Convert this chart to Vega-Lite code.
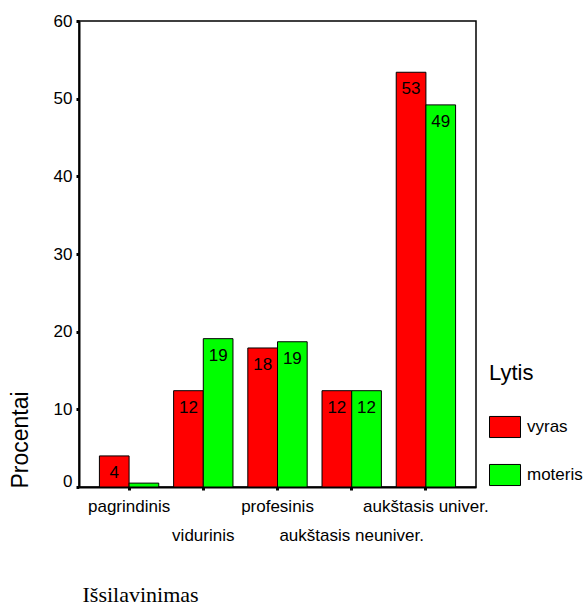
{
  "$schema": "https://vega.github.io/schema/vega-lite/v6.json",
  "width": 397,
  "height": 466,
  "autosize": {"type": "none"},
  "padding": {"left": 79, "top": 21, "right": 109, "bottom": 119},
  "background": "white",
  "config": {
    "view": {"stroke": "#000", "strokeWidth": 1.5},
    "font": "Liberation Sans"
  },
  "data": {
    "values": [
      {"education": "pagrindinis", "gender": "vyras", "percent": 4.0},
      {"education": "pagrindinis", "gender": "moteris", "percent": 0.5},
      {"education": "vidurinis", "gender": "vyras", "percent": 12.4},
      {"education": "vidurinis", "gender": "moteris", "percent": 19.1},
      {"education": "profesinis", "gender": "vyras", "percent": 17.9},
      {"education": "profesinis", "gender": "moteris", "percent": 18.7},
      {"education": "aukštasis neuniver.", "gender": "vyras", "percent": 12.4},
      {"education": "aukštasis neuniver.", "gender": "moteris", "percent": 12.4},
      {"education": "aukštasis univer.", "gender": "vyras", "percent": 53.4},
      {"education": "aukštasis univer.", "gender": "moteris", "percent": 49.2}
    ]
  },
  "encoding": {
    "x": {
      "field": "education",
      "type": "nominal",
      "sort": ["pagrindinis", "vidurinis", "profesinis", "aukštasis neuniver.", "aukštasis univer."],
      "scale": {"paddingInner": 0.2, "paddingOuter": 0.275},
      "axis": {
        "title": "Išsilavinimas",
        "domainColor": "#000",
        "domainWidth": 2,
        "ticks": true,
        "tickSize": 3,
        "tickWidth": 3,
        "tickColor": "#000",
        "labelAngle": 0,
        "labelFontSize": 17,
        "labelColor": "#000",
        "labelBaseline": "alphabetic",
        "labelPadding": {"condition": {"test": "datum.value === 'vidurinis' || datum.value === 'aukštasis neuniver.'", "value": 50}, "value": 21},
        "labelOverlap": false,
        "labelBound": false,
        "labelFlush": false,
        "titleFont": "Liberation Serif",
        "titleFontSize": 22,
        "titleFontWeight": "normal",
        "titleColor": "#000",
        "titleX": 3,
        "titleY": 114,
        "titleAlign": "left",
        "titleAnchor": "start",
        "titleBaseline": "alphabetic"
      }
    },
    "xOffset": {"field": "gender", "type": "nominal", "sort": ["vyras", "moteris"]},
    "y": {
      "field": "percent",
      "type": "quantitative",
      "scale": {"domain": [0, 60], "nice": false},
      "axis": {
        "title": "Procentai",
        "values": [0, 10, 20, 30, 40, 50, 60],
        "grid": false,
        "domainColor": "#000",
        "domainWidth": 2,
        "tickColor": "#000",
        "tickSize": 3,
        "tickWidth": 3,
        "labelFontSize": 17,
        "labelColor": "#000",
        "labelPadding": 4,
        "labelOffset": {"condition": {"test": "datum.value === 0", "value": -6}, "value": 0},
        "titleFontSize": 23,
        "titleFontWeight": "normal",
        "titleColor": "#000",
        "titleAngle": -90,
        "titleX": -52,
        "titleY": 467,
        "titleAlign": "left",
        "titleBaseline": "alphabetic"
      }
    }
  },
  "layer": [
    {
      "mark": {"type": "bar", "stroke": "#000", "strokeWidth": 1},
      "encoding": {
        "color": {
          "field": "gender",
          "type": "nominal",
          "sort": ["vyras", "moteris"],
          "scale": {"domain": ["vyras", "moteris"], "range": ["#ff0000", "#00ff00"]},
          "legend": {
            "title": "Lytis",
            "orient": "none",
            "legendX": 410,
            "legendY": 342,
            "padding": 0,
            "titleFontSize": 22,
            "titleFontWeight": "normal",
            "titleColor": "#000",
            "titlePadding": 26,
            "labelFontSize": 17,
            "labelColor": "#000",
            "labelOffset": 6,
            "symbolType": "M-1,-0.68H1V0.68H-1Z",
            "symbolSize": 961,
            "symbolStrokeColor": "#000",
            "symbolStrokeWidth": 1,
            "symbolOpacity": 1,
            "rowPadding": 19
          }
        }
      }
    },
    {
      "transform": [{"filter": "datum.percent >= 1"}],
      "mark": {"type": "text", "dy": 22, "fontSize": 17, "baseline": "alphabetic", "align": "center", "color": "#000"},
      "encoding": {"text": {"field": "percent", "type": "quantitative", "format": ".0f"}}
    }
  ]
}
